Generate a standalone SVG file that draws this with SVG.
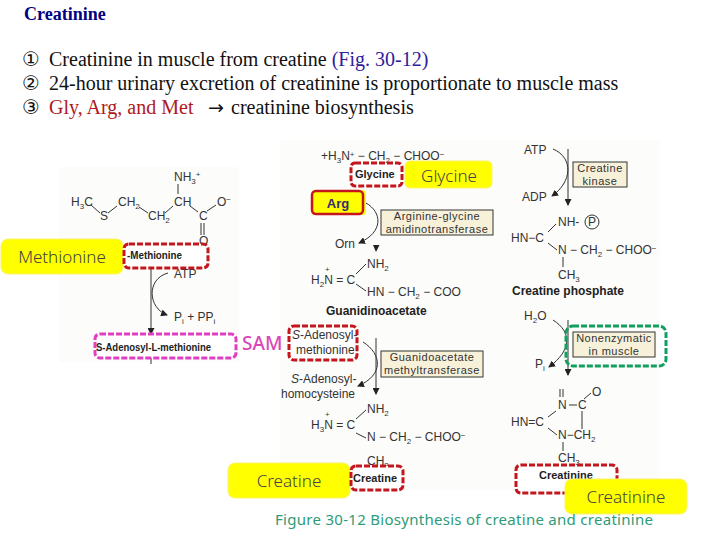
<svg xmlns="http://www.w3.org/2000/svg" width="720" height="540" viewBox="0 0 720 540">
<defs>
<marker id="ah" markerWidth="7" markerHeight="7" refX="6" refY="3.5" orient="auto" markerUnits="userSpaceOnUse"><path d="M0 0L7 3.5L0 7z" fill="#222"/></marker>
</defs>
<style>
text{font-family:"Liberation Sans",Arial,sans-serif}
.t{font-family:"Liberation Serif","Times New Roman",serif;font-size:18px;font-weight:bold;fill:#000080}
.s{font-family:"Liberation Serif","Times New Roman",serif;font-size:20px;fill:#111}
.n{font-family:"DejaVu Sans",sans-serif;font-size:20px}
.c{font-size:12px;fill:#333}
.sm{font-size:8px}
.b{font-size:12px;font-weight:bold;fill:#222}
.bl{font-size:11px;font-weight:bold;fill:#222}
.e{font-size:11px;letter-spacing:.5px;fill:#333;text-anchor:middle}
.y{font-family:"Noto Sans",sans-serif;font-size:17px;font-weight:300;fill:#444;text-anchor:middle}
.yb{fill:#ffff00;stroke:#fbf26a;stroke-width:1}
.dr{fill:#fff;stroke:#c4161c;stroke-width:3;stroke-dasharray:6 2}
.dm{fill:#fff;stroke:#e040c0;stroke-width:3;stroke-dasharray:6 2}
.dg{fill:none;stroke:#12a060;stroke-width:3;stroke-dasharray:6 2}
.en{fill:#f8f1da;stroke:#333;stroke-width:1}
.l{fill:none;stroke:#333;stroke-width:1}
.la{fill:none;stroke:#333;stroke-width:1;marker-end:url(#ah)}
.sam{font-family:"Noto Sans",sans-serif;font-size:19px;font-weight:500;fill:#d946b8}
.cap{font-family:"Noto Sans",sans-serif;font-size:15px;font-weight:400;fill:#2e9b78}
</style>
<rect width="720" height="540" fill="#fff"/>
<rect x="59" y="167" width="180" height="195" fill="#fcfcfa"/>
<rect x="280" y="140" width="380" height="350" fill="#fcfcfa"/>

<g id="header">
<text class="t" x="24" y="20">Creatinine</text>
<text class="s" y="66"><tspan class="n" x="22">①</tspan><tspan x="49">Creatinine in muscle from creatine </tspan><tspan fill="#30209a">(Fig. 30-12)</tspan></text>
<text class="s" y="90"><tspan class="n" x="22">②</tspan><tspan x="49">24-hour urinary excretion of creatinine is proportionate to muscle mass</tspan></text>
<text class="s" y="114"><tspan class="n" x="22">③</tspan><tspan x="49" fill="#b01820">Gly, Arg, and Met</tspan><tspan x="208" font-family="DejaVu Sans" font-size="19">→</tspan><tspan x="231">creatinine biosynthesis</tspan></text>
</g>

<g id="connectors">
<path class="la" d="M151 268V334"/>
<path class="la" d="M168 273C146 279 148 308 167 315"/>
<path class="l" d="M151 358V364"/>
<path class="la" d="M366 203C382 212 384 232 359 243"/>
<path d="M373 245H379.500L376 252z" fill="#222"/>
<path class="la" d="M553 149C574 158 572 182 552 196"/>
<path class="la" d="M568 149V205"/>
<path class="la" d="M376 338V394"/>
<path class="la" d="M363 342C382 354 384 375 358 386"/>
<path class="la" d="M553 320C572 332 572 350 549 367"/>
<path class="la" d="M568 320V375"/>
</g>

<g id="methionine-structure">
<text class="c" x="71" y="206">H<tspan class="sm" dy="3">3</tspan><tspan dy="-3">C</tspan></text>
<text class="c" x="100" y="220">S</text>
<text class="c" x="118" y="206">CH<tspan class="sm" dy="3">2</tspan></text>
<text class="c" x="148" y="220">CH<tspan class="sm" dy="3">2</tspan></text>
<text class="c" x="174" y="206">CH</text>
<text class="c" x="174" y="181">NH<tspan class="sm" dy="3">3</tspan><tspan class="sm" dy="-7">+</tspan></text>
<text class="c" x="199" y="220">C</text>
<text class="c" x="217" y="206">O<tspan class="sm" dy="-4">−</tspan></text>
<text class="c" x="199" y="245">O</text>
<path class="l" d="M91 205L100 213M108 213L117 206M139 207L148 213M165 213L173 206M178 184V194M190 206L198 212M207 211L216 205M201 223V235M204 223V235"/>
<text class="c" x="174" y="278">ATP</text>
<text class="c" x="174" y="321">P<tspan class="sm" dy="3">i</tspan><tspan dy="-3"> + PP</tspan><tspan class="sm" dy="3">i</tspan></text>
</g>

<g id="methionine-label"><rect class="yb" x="1" y="239" width="122" height="35" rx="7"/><text class="y" x="62" y="263">Methionine</text></g>
<g id="methionine"><rect class="dr" x="124" y="244" width="84" height="24" rx="5"/><text class="bl" x="127" y="259" textLength="55" lengthAdjust="spacingAndGlyphs">-Methionine</text></g>
<g id="sam"><rect class="dm" x="95" y="334" width="141" height="24" rx="5"/><text class="bl" x="96" y="351" textLength="115" lengthAdjust="spacingAndGlyphs">S-Adenosyl-L-methionine</text></g>
<g id="sam-label"><text class="sam" x="242" y="350">SAM</text></g>

<g id="glycine-structure">
<text class="c" x="321" y="160">+H<tspan class="sm" dy="3">3</tspan><tspan dy="-3">N</tspan><tspan class="sm" dy="-3">+</tspan><tspan dy="3"> − CH</tspan><tspan class="sm" dy="3">2</tspan><tspan dy="-3"> − CHOO</tspan><tspan class="sm" dy="-3">−</tspan></text>
</g>
<g id="glycine"><rect class="dr" x="351" y="163" width="51" height="23" rx="4"/><text class="bl" x="355" y="178">Glycine</text></g>
<g id="glycine-label"><rect class="yb" x="405" y="161" width="87" height="27" rx="5"/><text class="y" x="449" y="182">Glycine</text></g>
<g id="arg"><rect x="311" y="190" width="55" height="25" rx="4" fill="#ffff00"/><rect x="312" y="191" width="51" height="23" rx="4" fill="none" stroke="#c4161c" stroke-width="2.500"/><text x="338" y="208" text-anchor="middle" font-size="13" font-weight="bold" style="fill:#332a70">Arg</text></g>
<g id="agat"><rect class="en" x="381" y="210" width="112" height="25"/><text class="e" x="437" y="220">Arginine-glycine</text><text class="e" x="437" y="233">amidinotransferase</text></g>
<g id="guanidinoacetate-structure">
<text class="c" x="335" y="248">Orn</text>
<text class="c sm" x="325" y="272">+</text>
<text class="c" x="311" y="284">H<tspan class="sm" dy="3">2</tspan><tspan dy="-3">N = C</tspan></text>
<text class="c" x="367" y="268">NH<tspan class="sm" dy="3">2</tspan></text>
<text class="c" x="367" y="296">HN − CH<tspan class="sm" dy="3">2</tspan><tspan dy="-3"> − COO</tspan></text>
<path class="l" d="M356 274L366 264M356 284L366 291"/>
<text class="b" x="326" y="315">Guanidinoacetate</text>
</g>

<g id="sam2"><rect class="dr" x="289" y="326" width="68" height="34" rx="5"/><text class="c" x="292" y="339"><tspan font-style="italic">S</tspan>-Adenosyl-</text><text class="c" x="296" y="354">methionine</text></g>
<g id="gamt"><rect class="en" x="381" y="351" width="102" height="26"/><text class="e" x="432" y="361">Guanidoacetate</text><text class="e" x="432" y="374">methyltransferase</text></g>
<g id="creatine-structure">
<text class="c" x="291" y="383"><tspan font-style="italic">S</tspan>-Adenosyl-</text>
<text class="c" x="281" y="398">homocysteine</text>
<text class="c sm" x="325" y="417">+</text>
<text class="c" x="311" y="429">H<tspan class="sm" dy="3">3</tspan><tspan dy="-3">N = C</tspan></text>
<text class="c" x="367" y="413">NH<tspan class="sm" dy="3">2</tspan></text>
<text class="c" x="367" y="441">N − CH<tspan class="sm" dy="3">2</tspan><tspan dy="-3"> − CHOO</tspan><tspan class="sm" dy="-3">−</tspan></text>
<text class="c" x="367" y="465">CH<tspan class="sm" dy="3">3</tspan></text>
<path class="l" d="M356 419L366 410M356 433L366 438"/>
</g>
<g id="creatine-label"><rect class="yb" x="228" y="463" width="122" height="35" rx="7"/><text class="y" x="289" y="487">Creatine</text></g>
<g id="creatine"><rect class="dr" x="351" y="466" width="52" height="24" rx="5"/><text class="bl" x="353" y="482">Creatine</text></g>

<g id="creatine-phosphate-structure">
<text class="c" x="524" y="154">ATP</text>
<text class="c" x="522" y="201">ADP</text>
<text class="c" x="558" y="226">NH-</text>
<circle cx="592" cy="222" r="7" fill="none" stroke="#333"/><text class="c" x="588" y="226">P</text>
<text class="c" x="511" y="242">HN−C</text>
<text class="c" x="558" y="254">N − CH<tspan class="sm" dy="3">2</tspan><tspan dy="-3"> − CHOO</tspan><tspan class="sm" dy="-3">−</tspan></text>
<text class="c" x="558" y="279">CH<tspan class="sm" dy="3">3</tspan></text>
<path class="l" d="M548 232L556 224M548 243L557 250M563 257V267"/>
<text class="b" x="512" y="295">Creatine phosphate</text>
<text class="c" x="524" y="320">H<tspan class="sm" dy="3">2</tspan><tspan dy="-3">O</tspan></text>
</g>
<g id="creatine-kinase"><rect class="en" x="573" y="162" width="54" height="25"/><text class="e" x="600" y="172">Creatine</text><text class="e" x="600" y="185">kinase</text></g>
<g id="nonenzymatic"><rect class="en" x="573" y="332" width="82" height="25"/><text class="e" x="614" y="342">Nonenzymatic</text><text class="e" x="614" y="355">in muscle</text><rect class="dg" x="566" y="326" width="100" height="40" rx="7"/></g>
<g id="creatinine-structure">
<text class="c" x="535" y="368">P<tspan class="sm" dy="3">i</tspan></text>
<text class="c" x="558" y="409">N</text>
<text class="c" x="578" y="409">C</text>
<text class="c" x="592" y="396">O</text>
<text class="c" x="511" y="426">HN=C</text>
<text class="c" x="558" y="439">N−CH<tspan class="sm" dy="3">2</tspan></text>
<text class="c" x="558" y="462">CH<tspan class="sm" dy="3">3</tspan></text>
<path class="l" d="M560 389V397M563 389V397M548 417L556 411M548 428L557 435M569 405H577M584 399L591 393M582 411V429M563 442V451"/>
</g>
<g id="creatinine"><rect class="dr" x="516" y="465" width="101" height="28" rx="5"/><text class="bl" x="539" y="479">Creatinine</text></g>
<g id="creatinine-label"><rect class="yb" x="565" y="479" width="122" height="35" rx="7"/><text class="y" x="626" y="503">Creatinine</text></g>

<g id="caption"><text class="cap" x="275" y="525" textLength="378">Figure 30-12 Biosynthesis of creatine and creatinine</text></g>
</svg>
